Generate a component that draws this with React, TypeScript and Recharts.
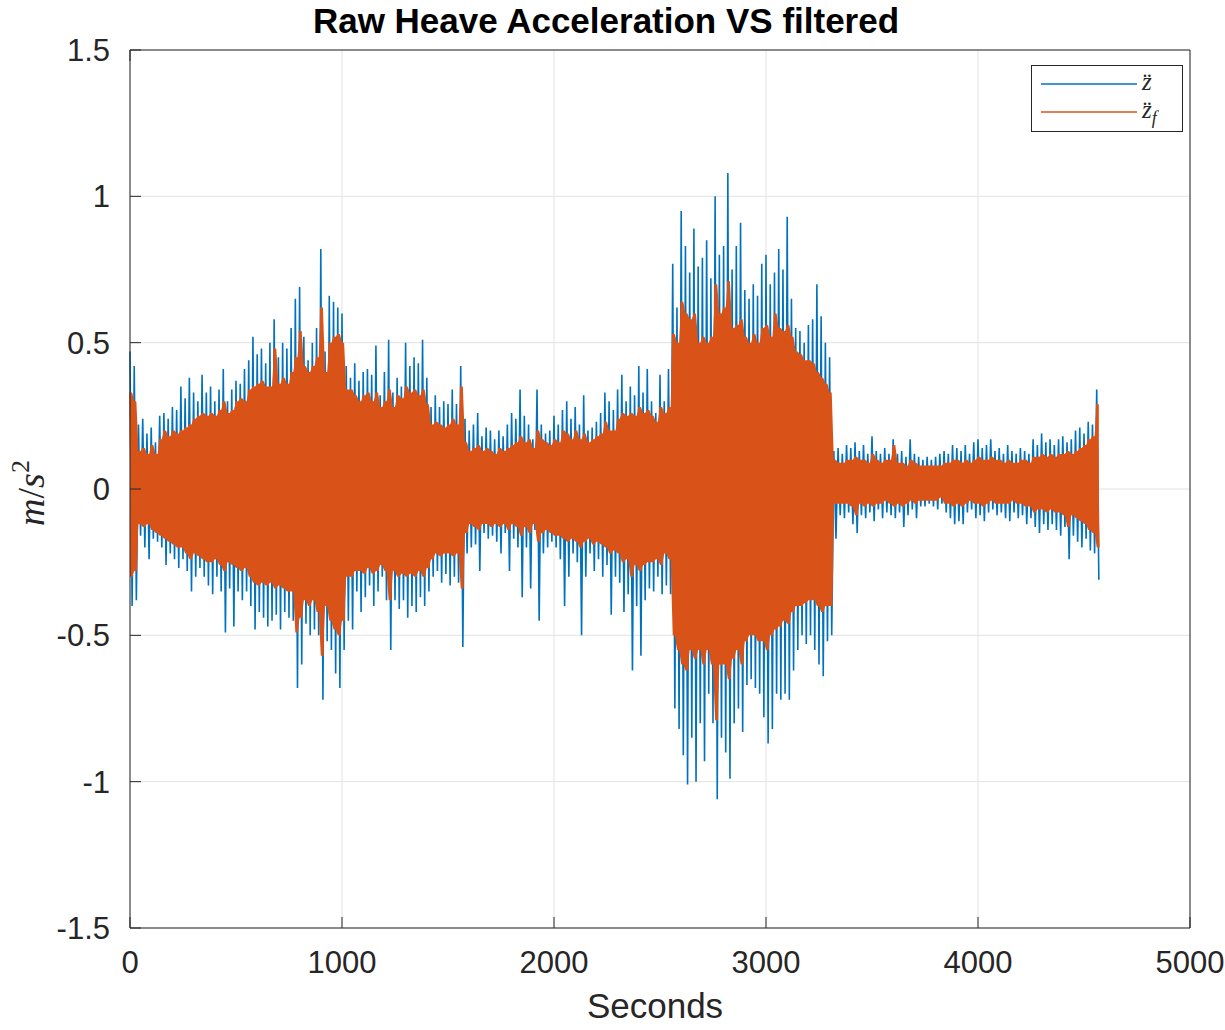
import { ComposedChart, Line, Area, XAxis, YAxis, CartesianGrid, Legend } from "recharts";

// samples are grouped in 20 s bins: the upper peak sits at the bin start,
// the lower peak half a bin later
const BIN_START = 0;
const BIN_STEP = 20;

// raw heave acceleration (m/s^2), peak values per bin
const rawUpper = [
  0.47, 0.42, 0.22, 0.24, 0.19, 0.21, 0.16, 0.25, 0.26, 0.24,
  0.28, 0.27, 0.35, 0.31, 0.38, 0.33, 0.30, 0.39, 0.33, 0.35,
  0.30, 0.34, 0.41, 0.30, 0.34, 0.37, 0.36, 0.41, 0.44, 0.52,
  0.46, 0.48, 0.43, 0.50, 0.58, 0.45, 0.50, 0.48, 0.55, 0.65,
  0.69, 0.52, 0.44, 0.50, 0.55, 0.82, 0.47, 0.66, 0.64, 0.62,
  0.60, 0.42, 0.38, 0.43, 0.37, 0.40, 0.41, 0.39, 0.49, 0.32,
  0.40, 0.51, 0.33, 0.38, 0.35, 0.50, 0.42, 0.45, 0.43, 0.51,
  0.38, 0.28, 0.32, 0.28, 0.30, 0.29, 0.34, 0.29, 0.42, 0.24,
  0.20, 0.22, 0.26, 0.18, 0.21, 0.20, 0.17, 0.20, 0.18, 0.22,
  0.26, 0.24, 0.34, 0.25, 0.22, 0.17, 0.34, 0.22, 0.19, 0.20,
  0.25, 0.22, 0.27, 0.30, 0.24, 0.28, 0.22, 0.32, 0.20, 0.21,
  0.23, 0.26, 0.33, 0.30, 0.27, 0.34, 0.39, 0.30, 0.35, 0.32,
  0.42, 0.33, 0.41, 0.30, 0.26, 0.39, 0.30, 0.41, 0.77, 0.62,
  0.95, 0.83, 0.74, 0.89, 0.76, 0.79, 0.85, 0.72, 1.00, 0.80,
  0.83, 1.08, 0.75, 0.83, 0.91, 0.68, 0.65, 0.70, 0.66, 0.77,
  0.80, 0.70, 0.74, 0.82, 0.75, 0.93, 0.65, 0.55, 0.54, 0.50,
  0.56, 0.58, 0.70, 0.59, 0.50, 0.45, 0.13, 0.14, 0.12, 0.15,
  0.14, 0.16, 0.13, 0.15, 0.12, 0.18, 0.13, 0.12, 0.14, 0.12,
  0.17, 0.12, 0.13, 0.11, 0.17, 0.12, 0.11, 0.10, 0.11, 0.10,
  0.11, 0.12, 0.13, 0.12, 0.15, 0.14, 0.13, 0.15, 0.12, 0.16,
  0.17, 0.14, 0.15, 0.17, 0.13, 0.14, 0.12, 0.15, 0.13, 0.12,
  0.14, 0.13, 0.12, 0.17, 0.15, 0.19, 0.16, 0.17, 0.15, 0.17,
  0.18, 0.16, 0.17, 0.20, 0.21, 0.19, 0.23, 0.22, 0.34,
];

const rawLower = [
  -0.40, -0.38, -0.16, -0.20, -0.24, -0.17, -0.18, -0.20, -0.26, -0.22,
  -0.24, -0.27, -0.24, -0.28, -0.35, -0.30, -0.27, -0.30, -0.33, -0.36,
  -0.30, -0.35, -0.49, -0.34, -0.47, -0.35, -0.38, -0.35, -0.40, -0.48,
  -0.42, -0.44, -0.47, -0.45, -0.43, -0.48, -0.42, -0.44, -0.45, -0.68,
  -0.60, -0.46, -0.50, -0.48, -0.50, -0.72, -0.52, -0.55, -0.63, -0.68,
  -0.55, -0.45, -0.48, -0.35, -0.42, -0.37, -0.33, -0.40, -0.35, -0.30,
  -0.38, -0.55, -0.38, -0.41, -0.38, -0.44, -0.40, -0.42, -0.37, -0.40,
  -0.35, -0.30, -0.28, -0.32, -0.29, -0.33, -0.30, -0.32, -0.54, -0.22,
  -0.20, -0.19, -0.28, -0.15, -0.17, -0.16, -0.18, -0.22, -0.15, -0.28,
  -0.17, -0.20, -0.37, -0.20, -0.34, -0.14, -0.45, -0.22, -0.20, -0.18,
  -0.20, -0.24, -0.40, -0.30, -0.22, -0.25, -0.50, -0.30, -0.22, -0.28,
  -0.24, -0.30, -0.26, -0.43, -0.30, -0.32, -0.42, -0.36, -0.62, -0.40,
  -0.57, -0.38, -0.34, -0.35, -0.30, -0.36, -0.33, -0.36, -0.75, -0.82,
  -0.91, -1.01, -0.85, -1.00, -0.80, -0.93, -0.70, -0.80, -1.06, -0.85,
  -0.90, -0.99, -0.80, -0.75, -0.83, -0.67, -0.65, -0.68, -0.70, -0.78,
  -0.87, -0.82, -0.70, -0.72, -0.70, -0.72, -0.62, -0.55, -0.50, -0.53,
  -0.50, -0.55, -0.60, -0.64, -0.52, -0.50, -0.17, -0.09, -0.10, -0.08,
  -0.12, -0.15, -0.09, -0.10, -0.08, -0.11, -0.07, -0.10, -0.08, -0.09,
  -0.10, -0.08, -0.13, -0.09, -0.07, -0.10, -0.06, -0.06, -0.05, -0.06,
  -0.07, -0.05, -0.08, -0.10, -0.12, -0.11, -0.12, -0.08, -0.07, -0.10,
  -0.09, -0.11, -0.08, -0.07, -0.09, -0.08, -0.10, -0.11, -0.08, -0.10,
  -0.09, -0.12, -0.10, -0.13, -0.15, -0.12, -0.14, -0.12, -0.14, -0.16,
  -0.13, -0.24, -0.16, -0.18, -0.20, -0.17, -0.21, -0.22, -0.31,
];

// filtered heave acceleration
const filtUpper = [
  0.33, 0.30, 0.13, 0.14, 0.12, 0.15, 0.12, 0.17, 0.20, 0.18,
  0.20, 0.19, 0.20, 0.21, 0.22, 0.24, 0.25, 0.26, 0.25, 0.26,
  0.25, 0.27, 0.30, 0.26, 0.27, 0.30, 0.31, 0.30, 0.34, 0.35,
  0.36, 0.37, 0.35, 0.35, 0.48, 0.36, 0.38, 0.36, 0.40, 0.45,
  0.54, 0.42, 0.40, 0.42, 0.45, 0.62, 0.40, 0.50, 0.52, 0.53,
  0.50, 0.34, 0.34, 0.32, 0.30, 0.32, 0.33, 0.30, 0.33, 0.28,
  0.30, 0.34, 0.28, 0.32, 0.31, 0.35, 0.33, 0.34, 0.32, 0.34,
  0.29, 0.22, 0.23, 0.22, 0.21, 0.22, 0.24, 0.22, 0.35, 0.16,
  0.13, 0.14, 0.15, 0.13, 0.14, 0.13, 0.12, 0.14, 0.13, 0.14,
  0.15, 0.16, 0.18, 0.16, 0.17, 0.14, 0.20, 0.17, 0.16, 0.15,
  0.17, 0.16, 0.20, 0.19, 0.17, 0.20, 0.17, 0.19, 0.16, 0.17,
  0.18, 0.19, 0.23, 0.20, 0.20, 0.24, 0.26, 0.25, 0.26, 0.25,
  0.28, 0.26, 0.27, 0.25, 0.23, 0.28, 0.26, 0.28, 0.53, 0.50,
  0.64, 0.60, 0.58, 0.60, 0.50, 0.52, 0.50, 0.52, 0.70, 0.60,
  0.62, 0.71, 0.55, 0.56, 0.58, 0.52, 0.50, 0.53, 0.50, 0.55,
  0.56, 0.52, 0.60, 0.55, 0.54, 0.56, 0.52, 0.47, 0.46, 0.44,
  0.44, 0.43, 0.40, 0.38, 0.36, 0.33, 0.10, 0.09, 0.09, 0.10,
  0.10, 0.11, 0.10, 0.10, 0.09, 0.12, 0.10, 0.09, 0.10, 0.10,
  0.15, 0.09, 0.09, 0.08, 0.10, 0.09, 0.08, 0.08, 0.08, 0.08,
  0.08, 0.08, 0.09, 0.09, 0.10, 0.10, 0.09, 0.10, 0.09, 0.10,
  0.11, 0.10, 0.10, 0.11, 0.10, 0.10, 0.09, 0.10, 0.09, 0.09,
  0.10, 0.10, 0.09, 0.11, 0.11, 0.12, 0.11, 0.12, 0.11, 0.12,
  0.12, 0.13, 0.12, 0.13, 0.14, 0.15, 0.17, 0.18, 0.29,
];

const filtLower = [
  -0.30, -0.28, -0.12, -0.13, -0.12, -0.14, -0.15, -0.16, -0.17, -0.18,
  -0.19, -0.20, -0.20, -0.22, -0.24, -0.22, -0.23, -0.24, -0.25, -0.25,
  -0.24, -0.26, -0.28, -0.25, -0.26, -0.27, -0.28, -0.27, -0.30, -0.32,
  -0.33, -0.32, -0.33, -0.32, -0.34, -0.33, -0.34, -0.35, -0.35, -0.49,
  -0.44, -0.38, -0.40, -0.38, -0.42, -0.57, -0.40, -0.45, -0.48, -0.50,
  -0.45, -0.30, -0.30, -0.28, -0.28, -0.29, -0.27, -0.29, -0.28, -0.26,
  -0.28, -0.38, -0.28, -0.30, -0.29, -0.30, -0.29, -0.30, -0.28, -0.30,
  -0.27, -0.24, -0.22, -0.23, -0.22, -0.22, -0.23, -0.22, -0.34, -0.15,
  -0.12, -0.13, -0.14, -0.12, -0.12, -0.13, -0.12, -0.13, -0.12, -0.14,
  -0.12, -0.13, -0.16, -0.13, -0.15, -0.12, -0.18, -0.15, -0.14, -0.15,
  -0.16, -0.16, -0.17, -0.18, -0.17, -0.18, -0.20, -0.18, -0.17, -0.19,
  -0.18, -0.19, -0.20, -0.22, -0.21, -0.22, -0.25, -0.24, -0.30, -0.26,
  -0.28, -0.26, -0.25, -0.25, -0.24, -0.26, -0.22, -0.24, -0.50, -0.55,
  -0.60, -0.62, -0.55, -0.58, -0.55, -0.60, -0.55, -0.60, -0.79, -0.60,
  -0.60, -0.65, -0.58, -0.55, -0.60, -0.52, -0.50, -0.50, -0.52, -0.52,
  -0.55, -0.50, -0.48, -0.47, -0.45, -0.46, -0.42, -0.40, -0.40, -0.39,
  -0.38, -0.38, -0.40, -0.42, -0.40, -0.40, -0.05, -0.05, -0.05, -0.05,
  -0.06, -0.09, -0.05, -0.06, -0.05, -0.06, -0.05, -0.05, -0.04, -0.05,
  -0.06, -0.05, -0.06, -0.05, -0.04, -0.05, -0.04, -0.04, -0.04, -0.04,
  -0.04, -0.03, -0.05, -0.05, -0.06, -0.05, -0.06, -0.05, -0.04, -0.05,
  -0.05, -0.06, -0.05, -0.04, -0.05, -0.05, -0.05, -0.05, -0.04, -0.05,
  -0.05, -0.06, -0.06, -0.08, -0.07, -0.07, -0.08, -0.07, -0.08, -0.08,
  -0.09, -0.13, -0.09, -0.10, -0.11, -0.12, -0.14, -0.15, -0.20,
];

const xTicks = [0, 1000, 2000, 3000, 4000, 5000];
const yTicks = [-1.5, -1, -0.5, 0, 0.5, 1, 1.5];

const data = rawUpper.flatMap((_, i) => {
  const band = [filtLower[i], filtUpper[i]];
  return [
    { t: BIN_START + i * BIN_STEP, raw: rawUpper[i], filtered: filtUpper[i], band },
    { t: BIN_START + i * BIN_STEP + BIN_STEP / 2, raw: rawLower[i], filtered: filtLower[i], band },
  ];
});

const INK = "#262626";
const BLUE = "#0072BD";
const ORANGE = "#D95319";
const SANS = "'Liberation Sans', Arial, sans-serif";
const SERIF = "'Liberation Serif', 'Times New Roman', serif";
const TICK_LEN = 11;

const BottomTick = ({ x, y, payload }: any) => (
  <g>
    <line x1={x} x2={x} y1={y} y2={y - TICK_LEN} stroke={INK} />
    <text x={x} y={y + 45} textAnchor="middle" fill={INK} fontFamily={SANS} fontSize={31}>
      {payload.value}
    </text>
  </g>
);

const TopTick = ({ x, y }: any) => <line x1={x} x2={x} y1={y} y2={y + TICK_LEN} stroke={INK} />;

const LeftTick = ({ x, y, payload }: any) => (
  <g>
    <line x1={x} x2={x + TICK_LEN} y1={y} y2={y} stroke={INK} />
    <text x={x - 20} y={y} dy="0.36em" textAnchor="end" fill={INK} fontFamily={SANS} fontSize={31}>
      {payload.value}
    </text>
  </g>
);

const RightTick = ({ x, y }: any) => <line x1={x} x2={x - TICK_LEN} y1={y} y2={y} stroke={INK} />;

const TitleLabel = () => (
  <text x={606} y={33} textAnchor="middle" fill="#000" fontFamily={SANS} fontWeight="bold" fontSize={35}>
    Raw Heave Acceleration VS filtered
  </text>
);

const XLabel = () => (
  <text x={655} y={1018} textAnchor="middle" fill={INK} fontFamily={SANS} fontSize={35}>
    Seconds
  </text>
);

const YLabel = ({ viewBox }: any) => {
  const x = 44;
  const y = viewBox.y + viewBox.height / 2 + 4;
  return (
    <text x={x} y={y} textAnchor="middle" transform={`rotate(-90, ${x}, ${y})`} fill={INK} fontFamily={SERIF} fontSize={38}>
      <tspan fontStyle="italic">m</tspan>
      <tspan>/</tspan>
      <tspan fontStyle="italic">s</tspan>
      <tspan dy={-15} fontSize={26}>2</tspan>
    </text>
  );
};

const LegendBox = () => (
  <svg width={152} height={67} style={{ display: "block" }}>
    <rect x={0.5} y={0.5} width={151} height={66} fill="#fff" stroke={INK} />
    <line x1={10} x2={106} y1={19} y2={19} stroke={BLUE} strokeWidth={1.5} />
    <line x1={10} x2={106} y1={47} y2={47} stroke={ORANGE} strokeWidth={1.5} />
    <text x={111} y={25} fill={INK} fontFamily={SERIF} fontStyle="italic" fontSize={25}>
      {"z\u0308"}
    </text>
    <text x={111} y={53} fill={INK} fontFamily={SERIF} fontStyle="italic" fontSize={25}>
      {"z\u0308"}
      <tspan dy={6} fontSize={18}>f</tspan>
    </text>
  </svg>
);

export default function App() {
  return (
    <div>
      <style>{"body{margin:0}"}</style>
      <ComposedChart width={1225} height={1030} data={data} margin={{ top: 49, right: 34, bottom: 101, left: 129 }}>
        <CartesianGrid stroke="#e2e2e2" />
        <XAxis
          dataKey="t"
          type="number"
          domain={[0, 5000]}
          ticks={xTicks}
          interval={0}
          height={1}
          tickSize={0}
          tickMargin={0}
          tick={<BottomTick />}
          axisLine={{ stroke: INK }}
          tickLine={false}
          label={<XLabel />}
        />
        <XAxis
          xAxisId="top"
          orientation="top"
          type="number"
          domain={[0, 5000]}
          ticks={xTicks}
          interval={0}
          height={1}
          tickSize={0}
          tickMargin={0}
          tick={<TopTick />}
          axisLine={{ stroke: INK }}
          tickLine={false}
          label={<TitleLabel />}
        />
        <YAxis
          type="number"
          domain={[-1.5, 1.5]}
          ticks={yTicks}
          interval={0}
          width={1}
          tickSize={0}
          tickMargin={0}
          tick={<LeftTick />}
          axisLine={{ stroke: INK }}
          tickLine={false}
          label={<YLabel />}
        />
        <YAxis
          yAxisId="right"
          orientation="right"
          type="number"
          domain={[-1.5, 1.5]}
          ticks={yTicks}
          interval={0}
          width={1}
          tickSize={0}
          tickMargin={0}
          tick={<RightTick />}
          axisLine={{ stroke: INK }}
          tickLine={false}
        />
        {/* raw signal drawn as an unfilled area so that it stays beneath the filtered band */}
        <Area
          dataKey="raw"
          name="raw"
          type="linear"
          stroke={BLUE}
          strokeWidth={1.6}
          fill="none"
          dot={false}
          activeDot={false}
          isAnimationActive={false}
        />
        <Area
          dataKey="band"
          type="linear"
          stroke="none"
          fill={ORANGE}
          fillOpacity={1}
          dot={false}
          activeDot={false}
          isAnimationActive={false}
        />
        <Line
          dataKey="filtered"
          name="filtered"
          type="linear"
          stroke={ORANGE}
          strokeWidth={1.6}
          dot={false}
          activeDot={false}
          isAnimationActive={false}
        />
        <Legend
          layout="vertical"
          verticalAlign="middle"
          align="center"
          content={<LegendBox />}
          wrapperStyle={{ left: 1031, top: 65, width: 152, height: 67 }}
        />
      </ComposedChart>
    </div>
  );
}
